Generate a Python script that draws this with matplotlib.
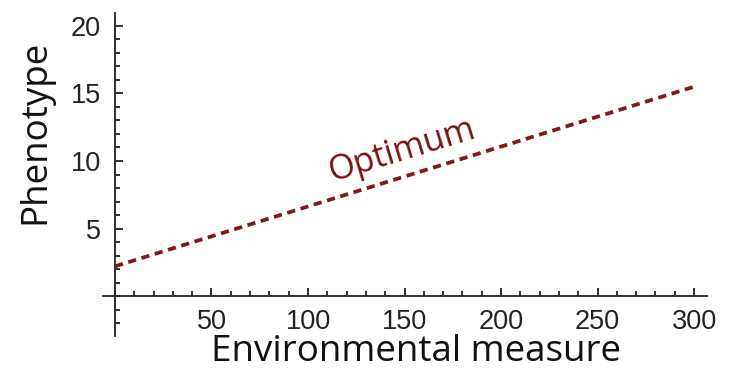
import numpy as np
import matplotlib
matplotlib.use("Agg")
import matplotlib.pyplot as plt
from matplotlib.ticker import MultipleLocator

plt.rcParams['font.family'] = ['Liberation Sans', 'DejaVu Sans']

# optimum phenotype as a linear function of the environment
env = [0, 300]
optimum = [2.2, 15.5]

xticks = [50, 100, 150, 200, 250, 300]
yticks = [5, 10, 15, 20]

line_col = '#7e1a1a'
axis_col = '#222222'
label_font = ['Open Sans', 'DejaVu Sans']

fig = plt.figure(figsize=(7.33, 3.73), dpi=100)
ax = fig.add_axes([103 / 733, 37 / 373, 604 / 733, 323 / 373])
ax.set_xlim(-6.2, 306.7)
ax.set_ylim(-2.96, 20.96)

ax.plot(env, optimum, color=line_col, lw=2.7, dashes=(2.2, 1.5),
        solid_capstyle='butt', dash_capstyle='butt')

ax.text(149, 10.8, 'Optimum', color='#7a1212', fontsize=24.5, family=label_font,
        rotation=17, ha='center', va='center', rotation_mode='anchor')

for side in ['top', 'right']:
    ax.spines[side].set_visible(False)
ax.spines['left'].set_position(('data', 0))
ax.spines['bottom'].set_position(('data', 0))
for side in ['left', 'bottom']:
    ax.spines[side].set_linewidth(1.3)
    ax.spines[side].set_color(axis_col)

ax.set_xticks(xticks)
ax.set_yticks(yticks)
ax.xaxis.set_minor_locator(MultipleLocator(10))
ax.yaxis.set_minor_locator(MultipleLocator(1))
ax.tick_params(which='both', direction='in', color=axis_col, width=1.3)
ax.tick_params(which='major', length=6, labelsize=19.5, labelcolor='#222222')
ax.tick_params(which='minor', length=3.5)
ax.tick_params(axis='y', pad=10)
ax.tick_params(axis='x', pad=9)

fig.text(35 / 733, 1 - 132 / 373, 'Phenotype', rotation=90, fontsize=26.5,
         family=label_font, ha='center', va='center', color='#111111')
fig.text(416 / 733, 3 / 373, 'Environmental measure', fontsize=26.5,
         family=label_font, ha='center', va='bottom', color='#111111')

fig.savefig('out.png', dpi=100)
